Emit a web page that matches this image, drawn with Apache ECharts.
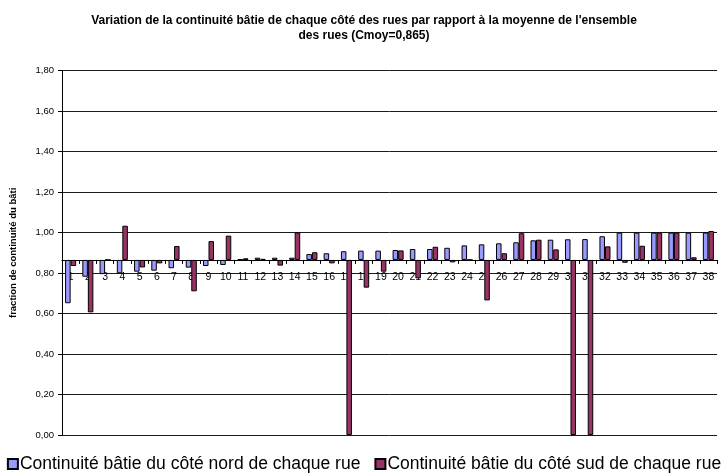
<!DOCTYPE html>
<html>
<head>
<meta charset="utf-8">
<script src="https://cdn.jsdelivr.net/npm/echarts@6/dist/echarts.min.js"></script>
<style>
  html, body { margin: 0; padding: 0; background: #fff; }
  #chart { width: 728px; height: 475px; }
</style>
</head>
<body>
<div id="chart"></div>
<script>
// Average built continuity of all streets (bars start from this level)
const cmoy = 0.865;

// Street numbers 1..38
const streets = ['1','2','3','4','5','6','7','8','9','10','11','12','13','14','15','16','17','18','19',
  '20','21','22','23','24','25','26','27','28','29','30','31','32','33','34','35','36','37','38'];

// Built continuity on the north side of each street
const north = [0.651, 0.782, 0.795, 0.799, 0.807, 0.812, 0.824, 0.827, 0.835, 0.840,
  0.868, 0.876, 0.876, 0.876, 0.894, 0.898, 0.908, 0.911, 0.911, 0.914,
  0.919, 0.919, 0.925, 0.937, 0.942, 0.947, 0.952, 0.962, 0.965, 0.967,
  0.968, 0.982, 1.000, 1.000, 1.000, 1.000, 1.000, 1.000];

// Built continuity on the south side of each street
const south = [0.835, 0.606, 0.865, 1.034, 0.828, 0.848, 0.934, 0.710, 0.958, 0.985,
  0.873, 0.870, 0.837, 1.001, 0.903, 0.848, 0.000, 0.728, 0.807, 0.912,
  0.774, 0.930, 0.853, 0.865, 0.665, 0.898, 0.997, 0.965, 0.917, 0.000,
  0.000, 0.932, 0.851, 0.935, 1.000, 1.000, 0.878, 1.008];

// Y axis range and step
const yMin = 0, yMax = 1.8, yStep = 0.2;

const nameNorth = 'Continuité bâtie du côté nord de chaque rue';
const nameSouth = 'Continuité bâtie du côté sud de chaque rue';

// Each bar spans from the average level to its own value:
// an invisible base up to the lower end, then the visible part stacked on it.
const lowerEnd = arr => arr.map(v => Math.min(v, cmoy));
const span = arr => arr.map(v => +Math.abs(v - cmoy).toFixed(4));

const font = '"Liberation Sans", Arial, sans-serif';
const hidden = { color: 'transparent', borderWidth: 0 };

const chart = echarts.init(document.getElementById('chart'), null, { renderer: 'canvas' });

const option = {
  animation: false,
  backgroundColor: '#ffffff',
  textStyle: { fontFamily: font },
  title: {
    text: "Variation de la continuité bâtie de chaque côté des rues par rapport à la moyenne de l'ensemble\ndes rues (Cmoy=0,865)",
    left: 'center',
    top: 8,
    textStyle: { fontFamily: font, fontSize: 12, fontWeight: 'bold', color: '#000', lineHeight: 15, align: 'center' }
  },
  legend: {
    bottom: -3,
    left: 'center',
    itemWidth: 10,
    itemHeight: 10,
    itemGap: 14,
    icon: 'rect',
    data: [nameNorth, nameSouth],
    textStyle: { fontFamily: font, fontSize: 17.5, color: '#000', padding: [0, 0, 0, -3] }
  },
  grid: { left: 59.5, right: 11, top: 70.7, bottom: 40, containLabel: false },
  xAxis: {
    type: 'category',
    data: streets,
    position: 'bottom',
    offset: 0,
    axisLine: { show: true, lineStyle: { color: '#000', width: 1 } },
    axisTick: { show: true, length: 4, alignWithLabel: false, lineStyle: { color: '#000' } },
    axisLabel: { fontFamily: font, fontSize: 10.5, color: '#000', margin: 12, interval: 0 },
    splitLine: { show: false }
  },
  yAxis: {
    type: 'value',
    min: yMin,
    max: yMax,
    interval: yStep,
    name: 'fraction de continuité du bâti',
    nameLocation: 'middle',
    nameGap: 44,
    nameRotate: 90,
    nameTextStyle: { fontFamily: font, fontSize: 9.5, fontWeight: 'bold', color: '#000' },
    axisLine: { show: true, lineStyle: { color: '#000', width: 1 } },
    axisTick: { show: true, length: 4, lineStyle: { color: '#000' } },
    axisLabel: {
      fontFamily: font, fontSize: 9.5, color: '#000', margin: 8,
      formatter: v => v.toFixed(2).replace('.', ',')
    },
    splitLine: { show: true, lineStyle: { color: '#1a1a1a', width: 1 } }
  },
  series: [
    {
      name: 'baseNorth', type: 'bar', stack: 'n', silent: true,
      data: lowerEnd(north), itemStyle: hidden,
      barGap: '0%', barCategoryGap: '36%'
    },
    {
      name: nameNorth, type: 'bar', stack: 'n',
      data: span(north),
      itemStyle: { color: '#9999ff', borderColor: '#000', borderWidth: 1 }
    },
    {
      name: 'baseSouth', type: 'bar', stack: 's', silent: true,
      data: lowerEnd(south), itemStyle: hidden
    },
    {
      name: nameSouth, type: 'bar', stack: 's',
      data: span(south),
      itemStyle: { color: '#993366', borderColor: '#000', borderWidth: 1 }
    }
  ]
};

chart.setOption(option);

// Place the category axis on the average level, using the value axis scale
const yAvg = chart.convertToPixel({ yAxisIndex: 0 }, cmoy);
const yBottom = chart.convertToPixel({ yAxisIndex: 0 }, yMin);
chart.setOption({ xAxis: { offset: -(yBottom - yAvg) } });
</script>
</body>
</html>
